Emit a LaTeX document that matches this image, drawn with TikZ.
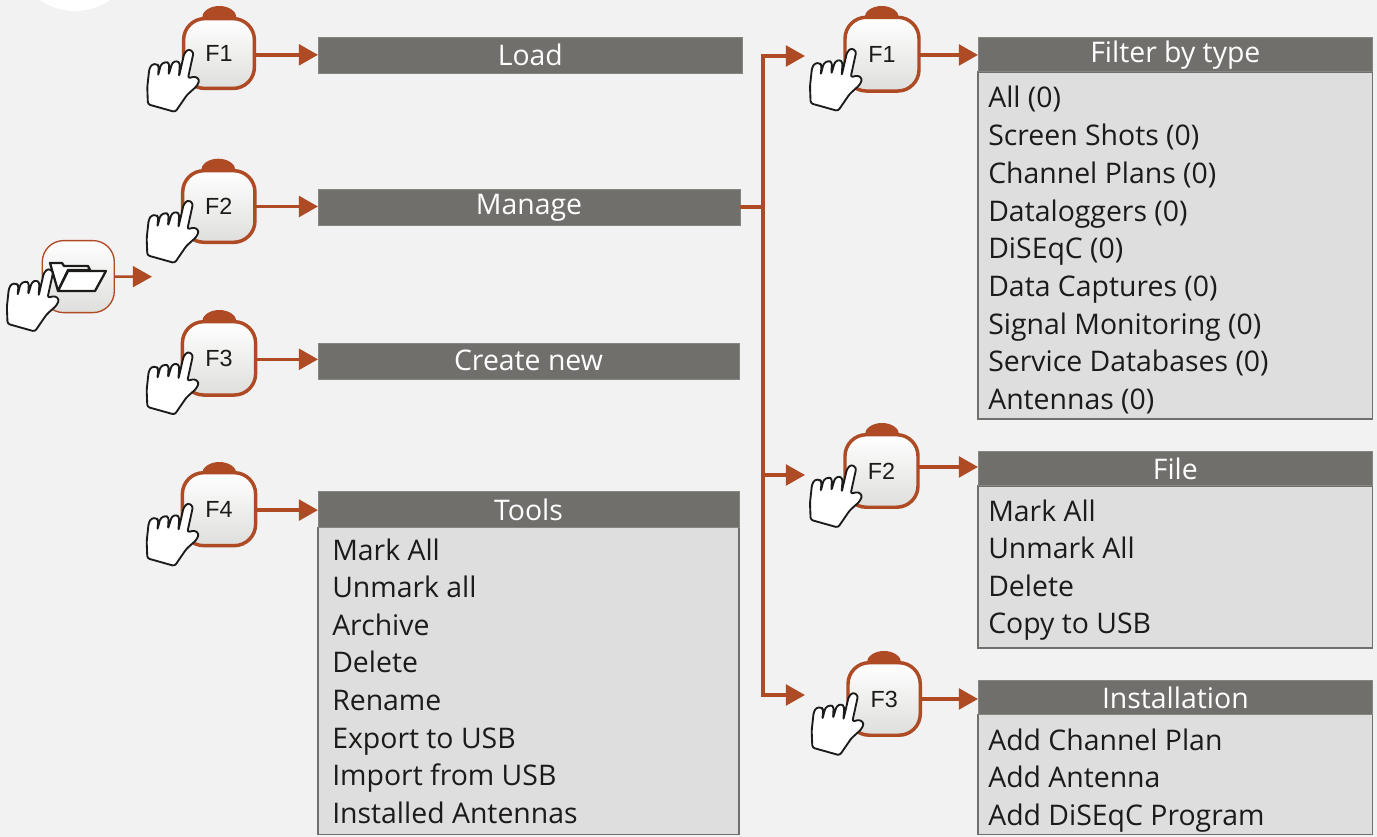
\documentclass[tikz,border=0pt]{standalone}
\usepackage{fontspec}
\setmainfont{Open Sans}
\newfontfamily\keyfont{Liberation Sans}
\usetikzlibrary{arrows.meta}
\definecolor{rust}{HTML}{AE4A24}
\definecolor{hdrgrey}{HTML}{706F6C}
\definecolor{bodygrey}{HTML}{DEDEDE}
\definecolor{edgegrey}{HTML}{6F6F6B}
\definecolor{bggrey}{HTML}{F2F2F2}
\definecolor{inkblack}{HTML}{1D1B1A}
\definecolor{keybottom}{HTML}{DEDEDC}
\tikzset{
  x=.75pt,y=-.75pt,
  keybox/.style={rectangle,rounded corners=16pt,top color=white,bottom color=keybottom,draw=rust,outer sep=0pt,
    line width=2.6pt,inner sep=0pt,text=inkblack,font=\keyfont\fontsize{17.5}{17.5}\selectfont,anchor=north west},
  hdr/.style={rectangle,fill=hdrgrey,draw=hdrgrey!85!white,line width=.5pt,text=white,inner sep=0pt,outer sep=0pt,anchor=north west,
    font=\fontsize{21.3}{21.3}\selectfont,text height=15pt,text depth=4pt},
  drop/.style={text height=#1},
  bodybox/.style={rectangle,fill=bodygrey,draw=edgegrey,line width=.8pt,inner sep=0pt,outer sep=0pt,anchor=north west},
  item/.style={anchor=base west,inner sep=0pt,text=inkblack,font=\fontsize{21.3}{21.3}\selectfont},
  conn/.style={draw=rust,line width=2.5pt},
  arr/.style={conn,-{Triangle[length=14.3pt,width=15.5pt]}},
  handline/.style={fill=white,draw=inkblack,line width=1.4pt,line join=round,rounded corners=1.8pt},
  hand/.pic={
    \path[handline,scale=.3333,shift={(-565,-150)}]
      (443,313)--(441,262)--(447,207)--(455,193)--(470,192)--(476,199)--(473,228)--(482,193)--(497,185)--(507,190)--(505,225)
      --(516,188)--(530,182)--(539,190)--(536,230)--(552,160)--(565,147)--(580,157)--(563,235)--(585,229)--(598,240)--(590,258)
      --(560,285)--(525,336)--cycle;
  },
  bumpshape/.pic={\fill[rust] (-17.3,12) arc[start angle=180,end angle=360,x radius=17.3,y radius=12] -- (17.3,16) -- (-17.3,16) -- cycle;},
}
\begin{document}
\begin{tikzpicture}
\useasboundingbox (0,0) rectangle (1377,837);
\clip (0,0) rectangle (1377,837);
\fill[bggrey] (0,0) rectangle (1377,837);
\fill[white] (75,-50) circle[radius=61];

% bumps
\foreach \bx/\by in {219.3/6,218.3/158.7,219.3/310,219.3/462,881.7/6,882/423,884/651}
  \pic at (\bx,\by) {bumpshape};

% keys
\node[keybox,minimum width=53.1pt,minimum height=52.4pt] (ka1) at (183.6,18.6) {F1};
\node[keybox,minimum width=54.2pt,minimum height=53.7pt] (ka2) at (182.7,170.7) {F2};
\node[keybox,minimum width=54.9pt,minimum height=55pt] (ka3) at (182.4,321.7) {F3};
\node[keybox,minimum width=54.9pt,minimum height=54.7pt] (ka4) at (182.4,472.7) {F4};
\node[keybox,minimum width=55.5pt,minimum height=55.3pt] (kb1) at (845,17.3) {F1};
\node[keybox,minimum width=54.75pt,minimum height=54.4pt] (kb2) at (845,434.7) {F2};
\node[keybox,minimum width=54.2pt,minimum height=54.4pt] (kb3) at (848,662.7) {F3};
\node[keybox,line width=1pt,minimum width=54pt,minimum height=54pt] (kf) at (42.3,240.6) {};

% folder icon
\draw[fill=white,draw=inkblack,line width=1.7pt,line join=round]
  (50,263)--(62,263)--(64,266)--(88,266)--(90,270)--(68,270)--(58,291)--cycle;
\draw[fill=white,draw=inkblack,line width=1.7pt,line join=round]
  (68,271)--(106,271)--(95,291)--(58,291)--cycle;

% headers
\node[hdr,drop=19.5pt,minimum width=318.5pt,minimum height=27pt] (load) at (318,37) {Load};
\node[hdr,minimum width=316.5pt,minimum height=27pt] (manage) at (318,189) {Manage};
\node[hdr,drop=18pt,minimum width=315.75pt,minimum height=27pt] (create) at (318,343) {Create new};
\node[bodybox,minimum width=315.75pt,minimum height=230pt] (toolsbody) at (318,527.5) {};
\node[hdr,drop=20.5pt,minimum width=315.75pt,minimum height=27pt] (tools) at (318,491.5) {Tools};
\node[bodybox,minimum width=296pt,minimum height=260.25pt] (filterbody) at (978,72) {};
\node[hdr,drop=16.5pt,minimum width=296pt,minimum height=26pt] (filter) at (978,37) {Filter by type};
\node[bodybox,minimum width=296pt,minimum height=121.5pt] (filebody) at (978,486) {};
\node[hdr,drop=20.5pt,minimum width=296pt,minimum height=26pt] (file) at (978,451) {File};
\node[bodybox,minimum width=296pt,minimum height=90pt] (instbody) at (978,714.5) {};
\node[hdr,drop=20.5pt,minimum width=296pt,minimum height=26pt] (inst) at (978,680) {Installation};

% lists
\foreach \t [count=\i from 0] in {Mark All,Unmark all,Archive,Delete,Rename,Export to USB,Import from USB,Installed Antennas}
  \node[item] (tl\i) at (332,560+\i*37.6) {\t};
\foreach \t [count=\i from 0] in {All (0),Screen Shots (0),Channel Plans (0),Dataloggers (0),DiSEqC (0),Data Captures (0),Signal Monitoring (0),Service Databases (0),Antennas (0)}
  \node[item] (fl\i) at (988,108+\i*37.7) {\t};
\foreach \t [count=\i from 0] in {Mark All,Unmark All,Delete,Copy to USB}
  \node[item] (fi\i) at (988,521+\i*37.6) {\t};
\foreach \t [count=\i from 0] in {Add Channel Plan,Add Antenna,Add DiSEqC Program}
  \node[item] (in\i) at (988,750+\i*37.6) {\t};

% connectors
\draw[arr] ([yshift=-1pt]ka1.east) -- ([yshift=-1pt]ka1.east -| load.west);
\draw[arr] (ka2.east) -- (ka2.east -| manage.west);
\draw[arr] ([yshift=-.7pt]ka3.east) -- ([yshift=-.7pt]ka3.east -| create.west);
\draw[arr] ([yshift=-.7pt]ka4.east) -- ([yshift=-.7pt]ka4.east -| tools.west);
\draw[arr] ([yshift=-.6pt]kb1.east) -- ([yshift=-.6pt]kb1.east -| filter.west);
\draw[arr] ([yshift=3pt]kb2.east) -- ([yshift=3pt]kb2.east -| file.west);
\draw[arr] (kb3.east) -- (kb3.east -| inst.west);
\coordinate (folderend) at (152,276.7);
\draw[arr,line width=2pt] (kf.east) -- (folderend);
\coordinate (trunk) at (763,208);
\coordinate (top) at (805,56);
\coordinate (mid) at (805,475);
\coordinate (bot) at (805,695);
\draw[conn] (manage.east) -- (manage.east -| trunk);
\draw[arr] (trunk) -- (trunk |- top) -- (top);
\draw[arr] (trunk) -- (trunk |- mid) -- (mid);
\draw[arr] (trunk) -- (trunk |- bot) -- (bot);

% hands
\pic at (188.6,50) {hand};
\pic at (188,201) {hand};
\pic at (188,352.6) {hand};
\pic at (188,504) {hand};
\pic at (851.3,49) {hand};
\pic at (851.3,465.5) {hand};
\pic at (853,693.3) {hand};
\pic at (48.2,269.5) {hand};
\end{tikzpicture}
\end{document}
